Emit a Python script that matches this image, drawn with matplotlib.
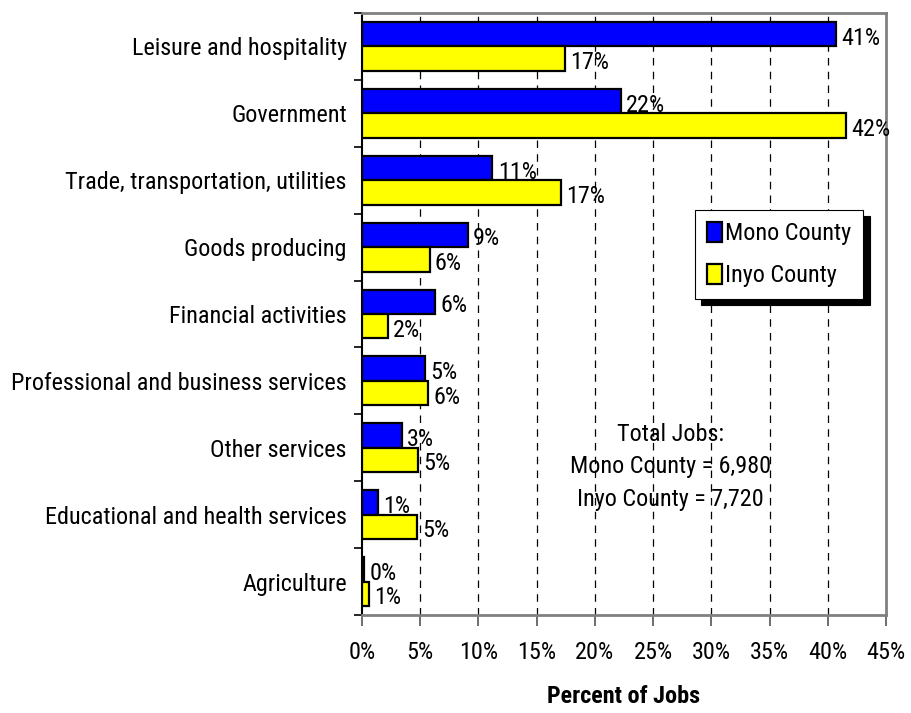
import numpy as np
import matplotlib.pyplot as plt
from matplotlib.ticker import FixedLocator, FuncFormatter

plt.rcParams['font.family'] = ['Roboto Condensed', 'DejaVu Sans']

categorias = ['Leisure and hospitality', 'Government', 'Trade, transportation, utilities',
              'Goods producing', 'Financial activities', 'Professional and business services',
              'Other services', 'Educational and health services', 'Agriculture']
mono = [40.7, 22.2, 11.2, 9.1, 6.3, 5.4, 3.4, 1.4, 0.2]
inyo = [17.4, 41.6, 17.1, 5.8, 2.2, 5.7, 4.8, 4.7, 0.6]
total_mono = 6980
total_inyo = 7720

fs = 17.4

fig = plt.figure(figsize=(9.11, 7.13), dpi=100)
ax = fig.add_axes([362 / 911, 1 - 615 / 713, 524 / 911, 602 / 713])

y = np.arange(len(categorias))
h = 0.365
b1 = ax.barh(y - h / 2, mono, height=h, color='#0000ff', edgecolor='black', linewidth=1.6,
             label='Mono County', zorder=3)
b2 = ax.barh(y + h / 2, inyo, height=h, color='#ffff00', edgecolor='black', linewidth=1.6,
             label='Inyo County', zorder=3)

for barras in (b1, b2):
    for r in barras:
        v = r.get_width()
        ax.text(v + 0.45, r.get_y() + r.get_height() / 2 + 0.06, f"{v:.0f}%",
                ha='left', va='center', fontsize=fs, zorder=4)

ax.set_xlim(0, 45)
ax.set_ylim(len(categorias) - 0.5, -0.5)

# eixo x
ax.set_xticks(np.arange(0, 46, 5))
ax.xaxis.set_major_formatter(FuncFormatter(lambda v, p: f"{v:.0f}%"))
ax.tick_params(axis='x', direction='out', length=8, width=1.2, color='#555555',
               labelsize=fs, pad=11)
ax.set_xlabel('Percent of Jobs', fontsize=fs, fontweight='bold', labelpad=15)
for xv in range(5, 45, 5):
    ax.axvline(xv, color='black', linestyle=(0, (6, 5)), linewidth=0.9, zorder=1)

# eixo y: rótulos no centro, marcas nas divisas
ax.set_yticks(y)
ax.set_yticklabels(categorias, fontsize=fs)
ax.tick_params(axis='y', which='major', length=0, pad=11)
ax.yaxis.set_minor_locator(FixedLocator(np.arange(-0.5, len(categorias), 1)))
ax.tick_params(axis='y', which='minor', direction='out', length=6, width=1.2, color='black')

for lado in ('top', 'right', 'bottom'):
    ax.spines[lado].set_color('#808080')
    ax.spines[lado].set_linewidth(2)
ax.spines['left'].set_color('black')
ax.spines['left'].set_linewidth(1.5)

leg = ax.legend(loc='upper left', bbox_to_anchor=((695 - 362) / 524, (615 - 210) / 602),
                fontsize=fs, frameon=True, fancybox=False, edgecolor='black',
                framealpha=1, borderpad=0.5, handlelength=0.6, handleheight=0.9,
                handletextpad=0.15, labelspacing=0.75, borderaxespad=0,
                shadow={'ox': 4.5, 'oy': -4.5, 'facecolor': 'black', 'edgecolor': 'black', 'alpha': 1})
leg.get_frame().set_linewidth(0.8)
leg.set_zorder(5)

ax.text(0.588, 0.246,
        f"Total Jobs:\nMono County = {total_mono:,}\nInyo County = {total_inyo:,}",
        transform=ax.transAxes, ha='center', va='center', fontsize=fs, linespacing=1.55)

fig.savefig('out.png', dpi=100)
